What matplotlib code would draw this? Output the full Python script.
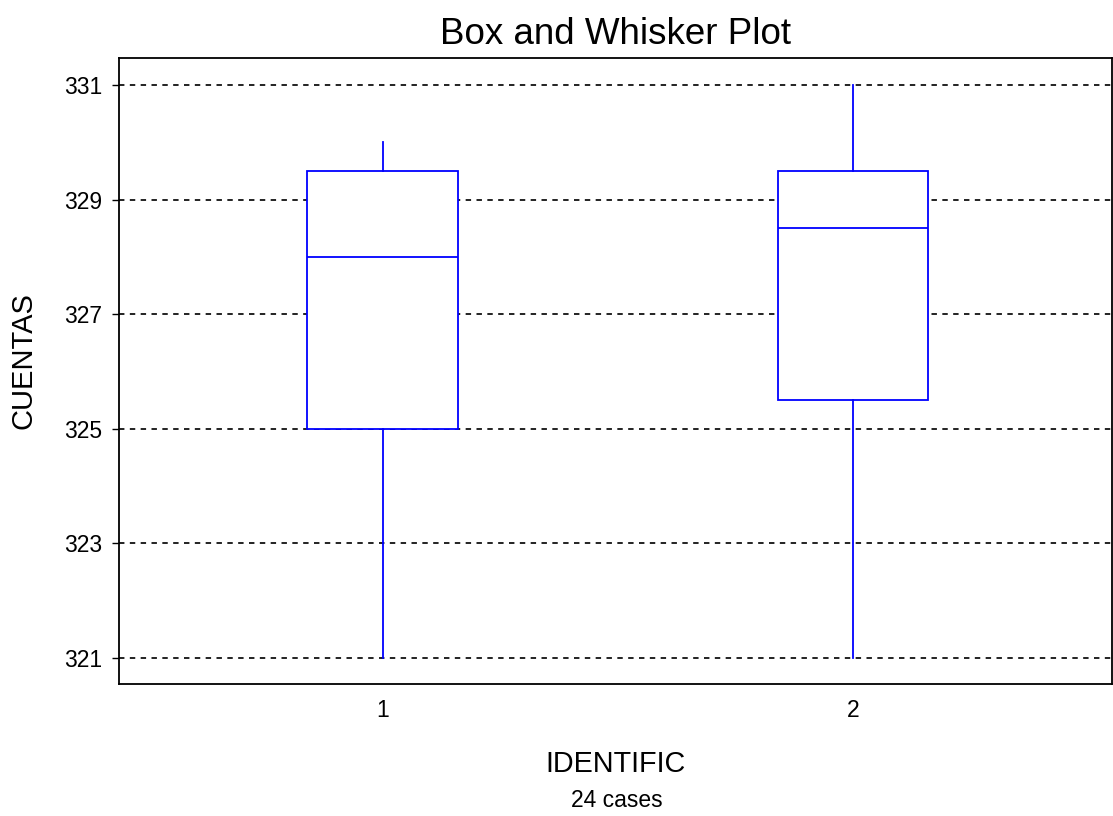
import matplotlib.pyplot as plt

plt.rcParams['font.family'] = ['Liberation Sans', 'DejaVu Sans']

# five-number summaries of CUENTAS for each IDENTIFIC group
groups = ['1', '2']
minimum = [321.0, 321.0]
q1 = [325.0, 325.5]
median = [328.0, 328.5]
q3 = [329.5, 329.5]
maximum = [330.0, 331.0]
n_cases = 24

stats = []
for g, lo, a, m, b, hi in zip(groups, minimum, q1, median, q3, maximum):
    stats.append({'label': g, 'whislo': lo, 'q1': a, 'med': m,
                  'q3': b, 'whishi': hi, 'fliers': []})

fig = plt.figure(figsize=(11.13, 8.16), dpi=100)
ax = fig.add_axes([0.107, 0.162, 0.892, 0.767])

blue = '#0000ff'
ax.bxp(stats, positions=[1, 2], widths=0.32, showcaps=False,
       patch_artist=True,
       boxprops=dict(facecolor='white', edgecolor=blue, linewidth=1.3),
       medianprops=dict(color=blue, linewidth=1.3),
       whiskerprops=dict(color=blue, linewidth=1.3),
       zorder=3)

ax.set_xlim(0.44, 2.55)
ax.set_ylim(320.55, 331.47)
ax.set_yticks([321, 323, 325, 327, 329, 331])
ax.set_xticks([1, 2])
ax.set_xticklabels(groups)

ax.yaxis.grid(True, linestyle=(0, (3, 3)), color='#111111', linewidth=1.3, zorder=0)
ax.set_axisbelow(True)

ax.tick_params(axis='y', labelsize=16.5, length=5, width=1, pad=7)
ax.tick_params(axis='x', labelsize=16.5, length=0, pad=11)
for s in ax.spines.values():
    s.set_linewidth(1.3)

ax.set_title('Box and Whisker Plot', fontsize=26.5, pad=10)
ax.set_ylabel('CUENTAS', fontsize=21)
ax.yaxis.set_label_coords(-0.082, 0.516)
ax.set_xlabel('IDENTIFIC', fontsize=20.7, labelpad=20)
fig.text(0.554, 0.005, f'{n_cases} cases', ha='center', va='bottom', fontsize=16.5)

fig.savefig('out.png', dpi=100)
